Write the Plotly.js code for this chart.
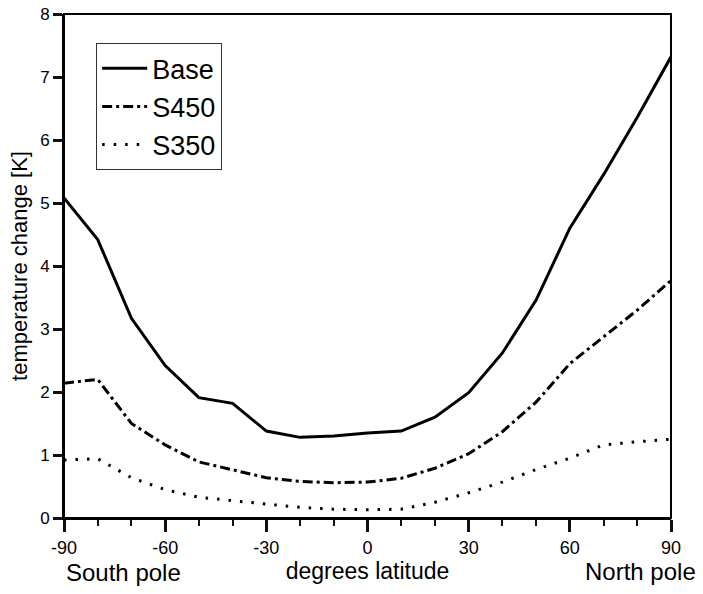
<!DOCTYPE html>
<html><head><meta charset="utf-8">
<script src="https://cdn.plot.ly/plotly-3.0.1.min.js"></script>
<style>html,body{margin:0;padding:0;background:#fff}#c{width:703px;height:594px}</style>
</head><body><div id="c"></div>
<script>
const latitude = [-90,-80,-70,-60,-50,-40,-30,-20,-10,0,10,20,30,40,50,60,70,80,90];
const base = [5.08,4.42,3.17,2.42,1.91,1.82,1.38,1.28,1.30,1.35,1.38,1.60,1.99,2.62,3.46,4.60,5.45,6.36,7.32];
const s450 = [2.14,2.20,1.50,1.16,0.89,0.76,0.64,0.58,0.56,0.57,0.63,0.79,1.02,1.37,1.84,2.45,2.87,3.30,3.77];
const s350 = [0.92,0.94,0.64,0.45,0.33,0.27,0.22,0.17,0.14,0.13,0.14,0.25,0.40,0.57,0.77,0.95,1.16,1.21,1.25];
const seriesNames = ['Base','S450','S350'];
const xTicks = [-90,-60,-30,0,30,60,90];
const yTicks = [0,1,2,3,4,5,6,7,8];

const F = 'Liberation Sans, Arial, Helvetica, sans-serif';
const traces = [
  {x: latitude, y: base, name: seriesNames[0], mode:'lines', line:{color:'#000', width:3}},
  {x: latitude, y: s450, name: seriesNames[1], mode:'lines', line:{color:'#000', width:3, dash:'10px,4px,3px,4px'}},
  {x: latitude, y: s350, name: seriesNames[2], mode:'lines', line:{color:'#000', width:3, dash:'2.5px,9px'}}
];
const layout = {
  width:703, height:594,
  margin:{l:64, r:32, t:14, b:76},
  paper_bgcolor:'#fff', plot_bgcolor:'#fff',
  font:{family:F, color:'#000'},
  showlegend:true,
  legend:{x:0.053, y:0.942, xanchor:'left', yanchor:'top', bgcolor:'#fff', bordercolor:'#333', borderwidth:1,
          font:{family:F, size:27, color:'#000'}, tracegroupgap:0, itemwidth:45},
  xaxis:{range:[-90,90], tickvals:xTicks, ticktext:xTicks.map(String), ticks:'outside', ticklen:12, tickwidth:3, tickcolor:'#111',
         minor:{tickvals:latitude, ticks:'outside', ticklen:6, tickwidth:2, tickcolor:'#111', showgrid:false},
         showline:true, linecolor:'#000', linewidth:2, showgrid:false, zeroline:false,
         tickfont:{family:F, size:18, color:'#000'},
         title:{text:'degrees latitude', font:{family:F, size:23, color:'#000'}, standoff:6}},
  yaxis:{range:[0,8], tickvals:yTicks, ticks:'outside', ticklen:9, tickwidth:3, tickcolor:'#111',
         showline:true, linecolor:'#000', linewidth:2, showgrid:false, zeroline:false,
         tickfont:{family:F, size:17, color:'#000'},
         title:{text:'temperature change [K]', font:{family:F, size:22, color:'#000'}, standoff:6}},
  shapes:[
    {type:'rect', xref:'paper', yref:'paper', x0:0, x1:1, y0:0, y1:1, line:{color:'#000', width:2}, layer:'above'}
  ],
  annotations:[
    {text:'South pole', xref:'paper', yref:'paper', x:0, y:-0.108, xanchor:'left', yanchor:'middle', showarrow:false, font:{family:F, size:24, color:'#000'}},
    {text:'North pole', xref:'paper', yref:'paper', x:1.045, y:-0.106, xanchor:'right', yanchor:'middle', showarrow:false, font:{family:F, size:24, color:'#000'}}
  ]
};
Plotly.newPlot('c', traces, layout, {displayModeBar:false});
</script></body></html>
